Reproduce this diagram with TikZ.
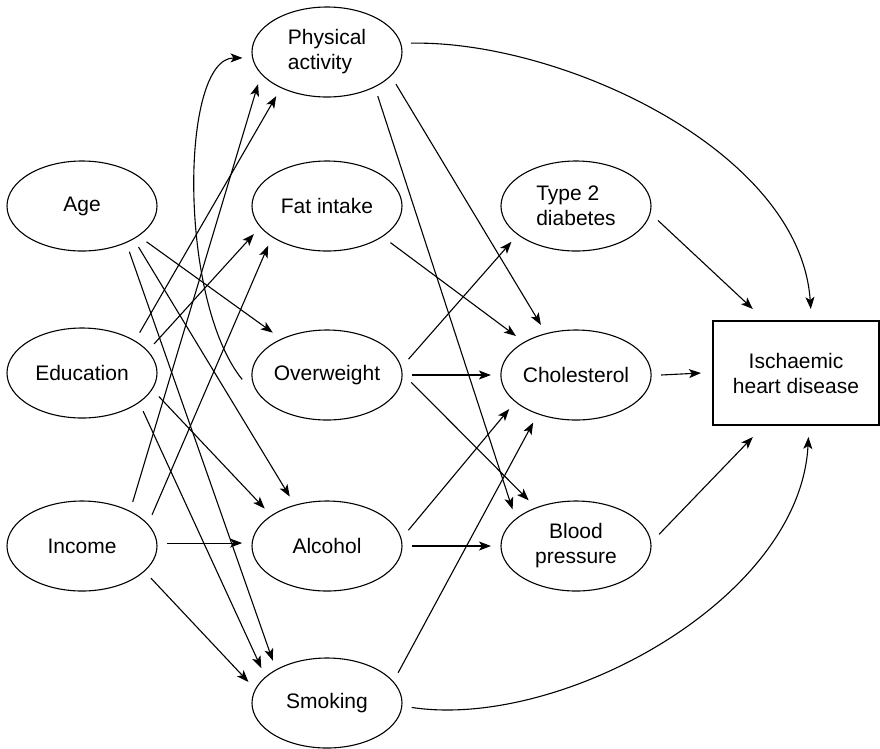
\documentclass[tikz,border=0pt]{standalone}
\usepackage{fontspec}
\setmainfont{Liberation Sans}
\usepackage{tikz}
\usetikzlibrary{ shapes.geometric }
\usetikzlibrary{arrows.meta}

\begin{document}
\begin{tikzpicture}[x=1pt, y=-1pt,
        factor/.style={ellipse, draw, line width=1.1pt, minimum width=150pt, minimum height=90pt,
            inner sep=0pt, outer sep=10pt, align=center, font=\fontsize{21}{25}\selectfont},
        outcome/.style={rectangle, draw, line width=1.1pt, minimum width=166pt, minimum height=104pt,
            inner sep=0pt, outer sep=12pt, align=center, font=\fontsize{21}{25}\selectfont},
        link/.style={line width=1.1pt, -{Stealth[length=12pt, width=9pt, inset=3pt]}}]
        \useasboundingbox (0,0) rectangle (880,748);

        \node[factor] (age) at (82,206) {Age};
        \node[factor] (edu) at (82,373) {Education};
        \node[factor] (inc) at (82,546) {Income};
        \node[factor, align=left] (pa) at (327,52) {Physical\\activity};
        \node[factor] (fat) at (327,206) {Fat intake};
        \node[factor] (ow) at (327,375) {Overweight};
        \node[factor] (alc) at (327,546) {Alcohol};
        \node[factor] (smk) at (327,703) {Smoking};
        \node[factor, align=left] (t2d) at (576,206) {Type 2\\diabetes};
        \node[factor] (chol) at (576,375) {Cholesterol};
        \node[factor] (bp) at (576,546) {Blood\\pressure};
        \node[outcome] (ihd) at (796,373) {Ischaemic\\heart disease};

        \draw[link] (age.-29) -- (ow.142);
        \draw[link] (age.-36) -- (alc.127);
        \draw[link] (age.-44) -- (smk.142);
        \draw[link] (edu.35) -- (pa.221);
        \draw[link] (edu.22) -- (fat.201);
        \draw[link] (edu.-17) -- (alc.149);
        \draw[link] (edu.-32) -- (smk.152);
        \draw[link] (inc.41) -- (pa.205);
        \draw[link] (inc.24) -- (fat.214);
        \draw[link] (inc.2) -- (alc.178);
        \draw[link] (inc.-25) -- (smk.165);
        \draw[link] (ow.183) .. controls (178,300) and (180,58) .. (pa.184);

        \draw[link] (pa.-25) -- (chol.125);
        \draw[link] (pa.-41) -- (bp.150);
        \draw[link] (pa.6) .. controls (560,40) and (800,150) .. (ihd.77);
        \draw[link] (fat.-30) -- (chol.147);
        \draw[link] (ow.11) -- (t2d.209);
        \draw[link] (ow.east) -- (chol.west);
        \draw[link] (ow.-5) -- (bp.136);
        \draw[link] (alc.11) -- (chol.207);
        \draw[link] (alc.east) -- (bp.west);
        \draw[link] (smk.23) -- (chol.228);
        \draw[link] (smk.-3) .. controls (560,730) and (800,600) .. (ihd.-79);

        \draw[link] (t2d.-10) -- (ihd.124);
        \draw[link] (chol.east) -- (ihd.west);
        \draw[link] (bp.8) -- (ihd.236);
    \end{tikzpicture}
\end{document}
